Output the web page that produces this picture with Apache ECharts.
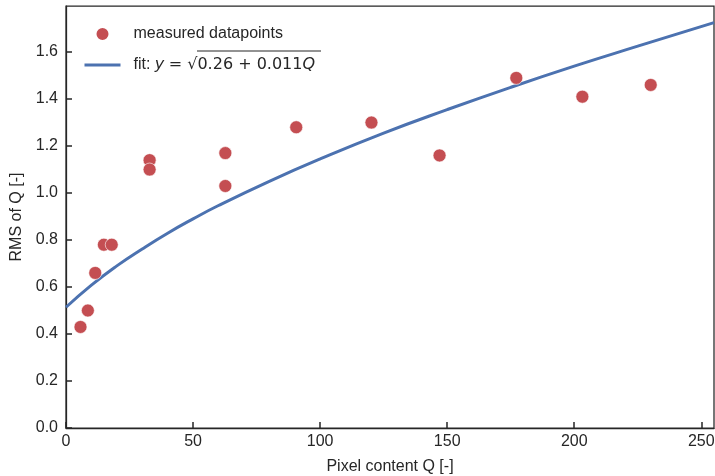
<!DOCTYPE html>
<html>
<head>
<meta charset="utf-8">
<script src="https://cdn.jsdelivr.net/npm/echarts@6/dist/echarts.min.js"></script>
<style>
  html, body { margin: 0; padding: 0; background: #fff; }
  #chart { width: 715px; height: 476px; }
</style>
</head>
<body>
<div id="chart"></div>
<script>
// measured points
const pixelQ = [5.7, 8.6, 11.5, 14.9, 18.0, 32.9, 32.9, 62.7, 62.7, 90.6, 120.2, 147.0, 177.2, 203.2, 230.1];
const rmsQ   = [0.43, 0.50, 0.66, 0.78, 0.78, 1.14, 1.10, 1.17, 1.03, 1.28, 1.30, 1.16, 1.49, 1.41, 1.46];

// fit curve
const fitQ   = [0, 10, 20, 30, 40, 50, 60, 80, 100, 125, 150, 175, 200, 225, 255];
const fitRms = [0.514, 0.608, 0.690, 0.762, 0.829, 0.890, 0.947, 1.050, 1.145, 1.255, 1.355, 1.450, 1.540, 1.625, 1.725];

const xTicks = [0, 50, 100, 150, 200, 250];
const yTicks = [0.0, 0.2, 0.4, 0.6, 0.8, 1.0, 1.2, 1.4, 1.6];

const ink = '#262626';
const font = 'Liberation Sans';
const mathFont = 'DejaVu Sans';

const chart = echarts.init(document.getElementById('chart'), null, {renderer: 'canvas'});

chart.setOption({
    animation: false,
    backgroundColor: '#fff',
    grid: {
        left: 66, right: 1, top: 6, bottom: 48,
        show: true,
        borderColor: ink,
        borderWidth: 1.25,
        containLabel: false,
        outerBoundsMode: 'none'
    },
    legend: {
        orient: 'vertical',
        left: 83,
        top: 26,
        padding: 0,
        itemWidth: 36,
        itemHeight: 14,
        itemGap: 15,
        selectedMode: false,
        data: [
            {name: 'measured datapoints', icon: 'circle'},
            {name: 'fit', itemStyle: {opacity: 0}, lineStyle: {width: 3}}
        ],
        formatter: function (name) {
            if (name === 'fit') {
                return 'fit: {i|y} {m|= √0.26 + 0.011}{i|Q}';
            }
            return name;
        },
        textStyle: {
            fontFamily: font,
            fontSize: 16,
            color: ink,
            padding: [0, 0, 0, 8],
            rich: {
                i: {fontFamily: mathFont, fontStyle: 'italic', fontSize: 16, color: ink},
                m: {fontFamily: mathFont, fontSize: 16, color: ink}
            }
        }
    },
    graphic: [
        // overline of the square root in the legend
        {type: 'line', shape: {x1: 197, y1: 51, x2: 321, y2: 51}, style: {stroke: ink, lineWidth: 1.2}}
    ],
    xAxis: {
        type: 'value',
        min: 0,
        max: 255,
        interval: 50,
        name: 'Pixel content Q [-]',
        nameLocation: 'middle',
        nameGap: 31,
        nameTextStyle: {fontFamily: font, fontSize: 16, color: ink},
        splitLine: {show: false},
        axisLine: {show: true, lineStyle: {color: ink, width: 1.25}},
        axisTick: {show: true, inside: true, length: 6, lineStyle: {color: ink, width: 1.5}},
        axisLabel: {
            fontFamily: font, fontSize: 16, color: ink, margin: 6,
            showMaxLabel: false,
            formatter: v => xTicks.includes(v) ? String(v) : ''
        }
    },
    yAxis: {
        type: 'value',
        min: 0,
        max: 1.796,
        interval: 0.2,
        name: 'RMS of Q [-]',
        nameLocation: 'middle',
        nameGap: 38,
        nameRotate: 90,
        nameTextStyle: {fontFamily: font, fontSize: 16, color: ink},
        splitLine: {show: false},
        axisLine: {show: true, lineStyle: {color: ink, width: 1.25}},
        axisTick: {show: true, inside: true, length: 6, lineStyle: {color: ink, width: 1.5}},
        axisLabel: {
            fontFamily: font, fontSize: 16, color: ink, margin: 8,
            showMaxLabel: false,
            formatter: v => {
                const t = yTicks.find(k => Math.abs(k - v) < 1e-6);
                return t === undefined ? '' : t.toFixed(1);
            }
        }
    },
    series: [
        {
            name: 'measured datapoints',
            type: 'scatter',
            symbol: 'circle',
            symbolSize: 13,
            itemStyle: {color: '#c44e52', opacity: 1, borderColor: '#fff', borderWidth: 0.6},
            data: pixelQ.map((q, i) => [q, rmsQ[i]]),
            z: 3
        },
        {
            name: 'fit',
            type: 'line',
            smooth: true,
            symbol: 'none',
            lineStyle: {color: '#4c72b0', width: 3},
            itemStyle: {color: '#4c72b0'},
            data: fitQ.map((q, i) => [q, fitRms[i]]),
            z: 2
        }
    ]
});
</script>
</body>
</html>
